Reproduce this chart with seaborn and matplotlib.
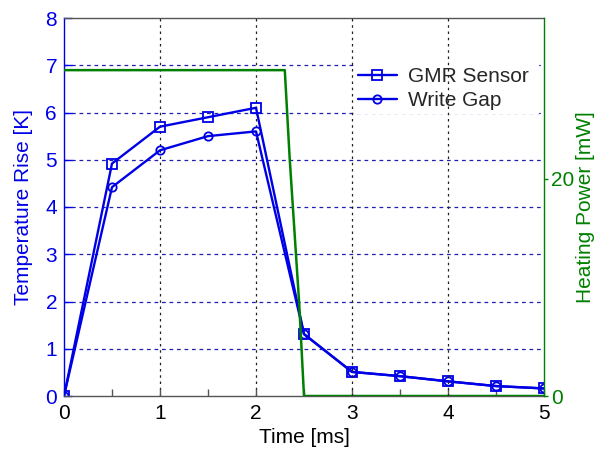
import matplotlib
matplotlib.use("Agg")
import matplotlib.pyplot as plt
from matplotlib.lines import Line2D
from matplotlib.ticker import MultipleLocator
import seaborn as sns

# Time axis [ms] and measured temperature rise [K]
time_ms = [0, 0.5, 1.0, 1.5, 2.0, 2.5, 3.0, 3.5, 4.0, 4.5, 5.0]
gmr_sensor = [0, 4.92, 5.70, 5.90, 6.10, 1.31, 0.51, 0.42, 0.31, 0.21, 0.16]
write_gap = [0, 4.42, 5.20, 5.50, 5.60, 1.31, 0.51, 0.42, 0.31, 0.21, 0.16]

# Heating pulse [mW]
power_time = [0, 2.30, 2.35, 2.45, 2.50, 5.0]
power_mw = [30, 30, 22, 8.5, 0, 0]

series_names = ["GMR Sensor", "Write Gap"]
temp_ticks = [0, 1, 2, 3, 4, 5, 6, 7, 8]
power_ticks = [0, 20]

BLUE = "#0000e6"
GREEN = "#008000"
VGRID = dict(color="#202020", lw=0.9, ls=(0, (2, 3)))

sns.set_style("white")
plt.rcParams["font.family"] = ["Liberation Sans", "DejaVu Sans"]
plt.rcParams["font.size"] = 15

fig = plt.figure(figsize=(6.04, 4.5), dpi=100)
ax = fig.add_axes([64 / 604, 54 / 450, 480 / 604, 378 / 450])

sns.lineplot(x=time_ms, y=gmr_sensor, ax=ax, color=BLUE, lw=1.7,
             marker="s", markersize=7, mfc="none", mec=BLUE, mew=1.3)
sns.lineplot(x=time_ms, y=write_gap, ax=ax, color=BLUE, lw=1.7,
             marker="o", markersize=6, mfc="none", mec=BLUE, mew=1.3)

ax.set_xlim(0, 5)
ax.set_ylim(0, 8)
ax.set_yticks(temp_ticks)
ax.xaxis.set_major_locator(MultipleLocator(1))
ax.xaxis.set_minor_locator(MultipleLocator(0.5))

# dashed grid: blue horizontal, black vertical
for y in temp_ticks[1:-1]:
    ax.axhline(y, color="#2020b0", lw=0.9, ls=(0, (3, 3)), zorder=0.5)
for x in [1, 2]:
    ax.axvline(x, zorder=0.5, **VGRID)

ax.tick_params(axis="y", which="both", direction="in", colors=BLUE,
               left=True, right=True, length=6, width=1, pad=5,
               labelsize=15)
ax.tick_params(axis="x", which="both", direction="in", colors="#555555",
               labelcolor="black", bottom=True, top=False, length=5,
               width=1, pad=6, labelsize=15)

for side in ["top", "bottom"]:
    ax.spines[side].set_color("#555555")
    ax.spines[side].set_linewidth(1)
ax.spines["left"].set_color(BLUE)
ax.spines["left"].set_linewidth(1)
ax.spines["right"].set_visible(False)

ax.set_xlabel("Time [ms]", fontsize=15, color="black")
ax.set_ylabel("Temperature Rise [K]", fontsize=15, color=BLUE)
ax.xaxis.set_label_coords(0.5, -0.085)
ax.yaxis.set_label_coords(-0.064, 0.5)

# heating power on the right axis
ax2 = ax.twinx()
sns.lineplot(x=power_time, y=power_mw, ax=ax2, color=GREEN, lw=1.8)
ax2.set_ylim(0, 34.8)
ax2.set_yticks(power_ticks)
ax2.tick_params(axis="y", direction="out", colors=GREEN, length=3,
                width=1, pad=2, labelsize=15)
for side in ["top", "bottom", "left"]:
    ax2.spines[side].set_visible(False)
ax2.spines["right"].set_color(GREEN)
ax2.spines["right"].set_linewidth(1)
ax2.set_ylabel("Heating Power [mW]", fontsize=15, color=GREEN)
ax2.yaxis.set_label_coords(1.066, 0.5)

# vertical grid lines that stay visible across the legend box
for x in [3, 4]:
    ax2.axvline(x, zorder=6, **VGRID)

handles = [
    Line2D([], [], color=BLUE, lw=1.7, marker="s", markersize=7,
           mfc="none", mec=BLUE, mew=1.3),
    Line2D([], [], color=BLUE, lw=1.7, marker="o", markersize=6,
           mfc="none", mec=BLUE, mew=1.3),
]
leg = ax2.legend(handles, series_names, loc="upper left", mode="expand",
                 bbox_to_anchor=(355 / 604, 1 - 64 / 450, 183 / 604, 0),
                 bbox_transform=fig.transFigure, frameon=True,
                 fancybox=False, facecolor="white", edgecolor="white",
                 framealpha=1, borderpad=0.15, borderaxespad=0,
                 handlelength=1.85, handletextpad=0.55, labelspacing=0.25,
                 fontsize=15)

fig.savefig("out.png", dpi=100)
